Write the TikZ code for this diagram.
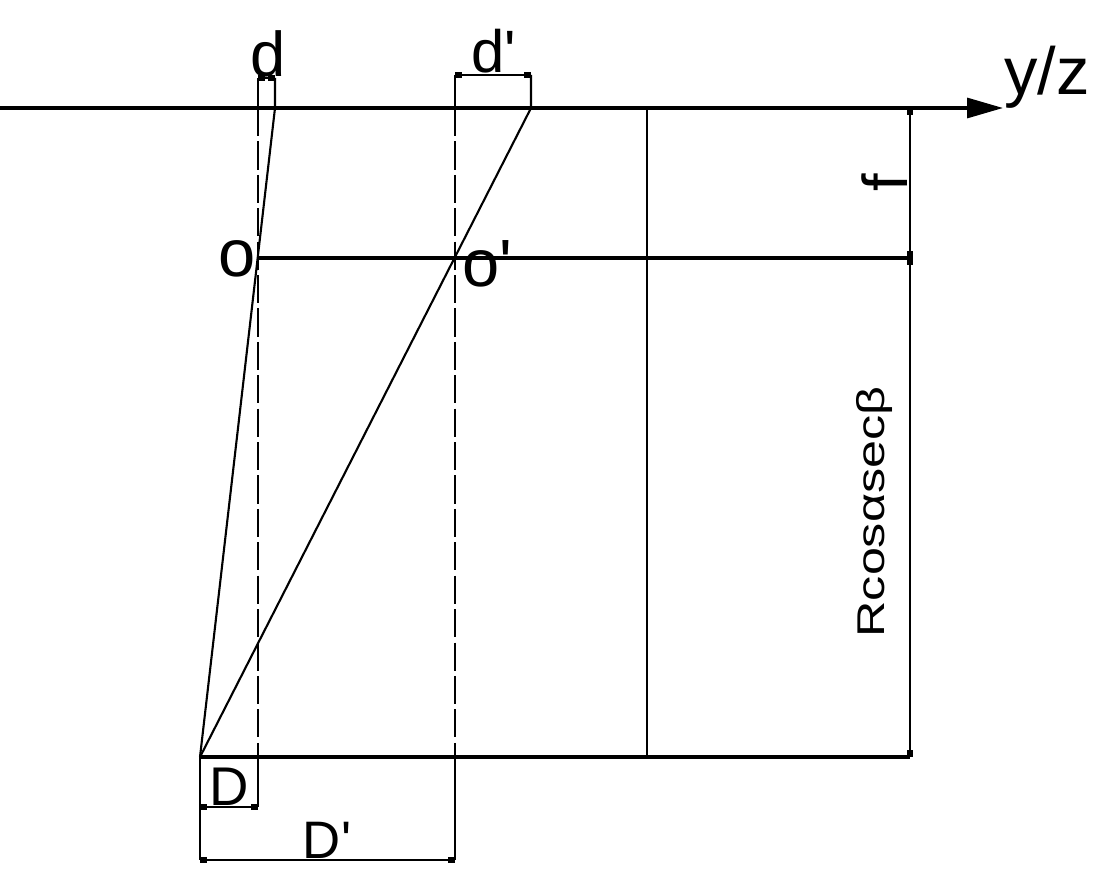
\documentclass[tikz,border=0pt]{standalone}
\usepackage{fontspec}
\setmainfont{Liberation Sans}
\newfontfamily\widefont[FakeStretch=1.3]{Liberation Sans}
\usetikzlibrary{arrows.meta}
\tikzset{
	mainline/.style={line width=0.9pt},
	thinline/.style={line width=0.6pt},
	hiddenline/.style={line width=0.6pt, dash pattern=on 8pt off 1.5pt},
	dimline/.style={line width=0.7pt, {Rectangle[length=2pt,width=1.5pt]}-{Rectangle[length=2pt,width=1.5pt]}},
	lbl/.style={inner sep=0pt, anchor=base},
}

\begin{document}
\begin{tikzpicture}[x=0.01cm, y=-0.01cm]
	\useasboundingbox (0,0) rectangle (1110,879);
	% axis and frame points
	\coordinate (axisstart) at (0,108);
	\coordinate (axisend) at (1003,108);
	\coordinate (F) at (200,757);
	\coordinate (o) at (258,258);
	\coordinate (oo) at (455,258);
	\coordinate (midend) at (910,258);
	\coordinate (botend) at (910,757);
	\coordinate (toptick) at (910,108);
	\coordinate (vtop) at (647,108);
	\coordinate (vbot) at (647,757);
	% rays
	\coordinate (dtop) at (275,108);
	\coordinate (dext) at (275,78);
	\coordinate (dptop) at (531,108);
	\coordinate (dpext) at (531,75);
	% extension lines
	\coordinate (dl) at (258,78);
	\coordinate (dlaxis) at (258,108);
	\coordinate (dlbot) at (258,757);
	\coordinate (Dr) at (258,807);
	\coordinate (Dl) at (200,807);
	\coordinate (dpl) at (455,75);
	\coordinate (dplaxis) at (455,108);
	\coordinate (dplbot) at (455,757);
	\coordinate (Dpr) at (455,860);
	\coordinate (Dpl) at (200,860);
	
	\draw[mainline, -{Triangle[length=0.36cm, width=0.2cm]}] (axisstart) -- (axisend);
	\node[lbl, font=\fontsize{19}{21}\selectfont] (yz) at (1047,95) {y/z};
	
	\draw[mainline] (o) -- (midend);
	\draw[mainline] (F) -- (botend);
	\draw[thinline] (vtop) -- (vbot);
	
	\draw[thinline] (F) -- (dtop) -- (dext);
	\draw[thinline] (F) -- (dptop) -- (dpext);
	
	\draw[thinline] (dl) -- (dlaxis);
	\draw[hiddenline] (dlaxis) -- (dlbot);
	\draw[thinline] (dlbot) -- (Dr);
	\draw[thinline] (dpl) -- (dplaxis);
	\draw[hiddenline] (dplaxis) -- (dplbot);
	\draw[thinline] (dplbot) -- (Dpr);
	\draw[thinline] (F) -- (Dpl);
	
	% dimensions
	\draw[dimline] (dl) -- (dext);
	\draw[dimline] (dpl) -- (dpext);
	\draw[dimline] (Dl) -- (Dr);
	\draw[dimline] (Dpl) -- (Dpr);
	\draw[dimline] (toptick) -- (midend);
	\draw[dimline] (midend) -- (botend);
	
	\node[lbl, font=\fontsize{18}{20}\selectfont] (dlabel) at (268,77) {d};
	\node[lbl, font=\fontsize{17}{20}\selectfont] (dplabel) at (494,73) {d\textquotesingle};
	\node[lbl, font=\fontsize{19}{21}\selectfont] (olabel) at (237,276) {o};
	\node[lbl, font=\fontsize{19}{21}\selectfont] (oolabel) at (487,286) {o\textquotesingle};
	\node[lbl, font=\fontsize{15.5}{18}\selectfont] (Dlabel) at (229,805) {D};
	\node[lbl, font=\fontsize{15}{18}\selectfont] (Dplabel) at (327,858) {D\textquotesingle};
	\node[lbl, rotate=90, font=\fontsize{18}{20}\selectfont] (flabel) at (907,183) {f};
	\node[lbl, rotate=90, font=\widefont\fontsize{11}{13}\selectfont] (Rlabel) at (884,512) {Rcosαsecβ};
\end{tikzpicture}
\end{document}
